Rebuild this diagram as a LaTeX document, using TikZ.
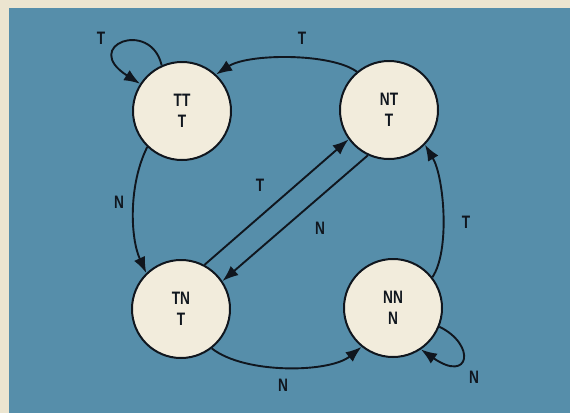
\documentclass[tikz,border=0pt]{standalone}
\usepackage{fontspec}
\setmainfont{Liberation Sans}[FakeStretch=0.76,BoldFont={Liberation Sans Bold},BoldFeatures={FakeStretch=0.76}]
\usetikzlibrary{arrows.meta}
\definecolor{bgblue}{RGB}{86,142,170}
\definecolor{cream}{RGB}{236,229,208}
\definecolor{circfill}{RGB}{242,236,220}
\definecolor{ink}{RGB}{16,22,30}
\begin{document}
\begin{tikzpicture}[x=1pt,y=1pt,
  state/.style={circle,draw=ink,line width=2pt,fill=circfill,minimum size=98pt,inner sep=0pt,
    align=center,font=\fontsize{18}{21}\selectfont\bfseries,text=ink},
  lbl/.style={font=\fontsize{18}{21}\selectfont\bfseries,text=ink,inner sep=0pt},
  conn/.style={draw=ink,line width=1.9pt,-{Latex[length=16pt,width=12pt]}}]
\useasboundingbox (0,0) rectangle (570,-413);
\fill[cream] (0,0) rectangle (570,-413);
\fill[bgblue] (9,-8) rectangle (570,-413);

\node[state] (TT) at (182,-111) {TT\\T};
\node[state] (NT) at (389,-110) {NT\\T};
\node[state] (TN) at (181,-309) {TN\\T};
\node[state] (NN) at (393,-308) {NN\\N};

% self loops
\draw[conn] (TT.114) .. controls +(-11,47) and +(-60,38) .. (TT.147);
\draw[conn] (NN.338) .. controls +(37,-18) and +(49,-34) .. (NN.304);

% outer arcs
\draw[conn] (NT.130) .. controls +(-26,19) and +(32,21) .. (TT.47);
\draw[conn] (TT.226) .. controls +(-19,-38) and +(-16,35) .. (TN.134);
\draw[conn] (TN.308) .. controls +(33,-26) and +(-32,-26) .. (NN.231);
\draw[conn] (NN.38) .. controls +(18,27) and +(19,-32) .. (NT.316);

% diagonals
\draw[conn] (TN.62) -- (NT.216);
\draw[conn] (NT.245) -- (TN.34);

% labels
\node[lbl] (l1) at (101,-38) {T};
\node[lbl] (l2) at (302,-38) {T};
\node[lbl] (l3) at (119,-202) {N};
\node[lbl] (l4) at (260,-185) {T};
\node[lbl] (l5) at (320,-228) {N};
\node[lbl] (l6) at (466,-222) {T};
\node[lbl] (l7) at (283,-385) {N};
\node[lbl] (l8) at (474,-377) {N};
\end{tikzpicture}
\end{document}
